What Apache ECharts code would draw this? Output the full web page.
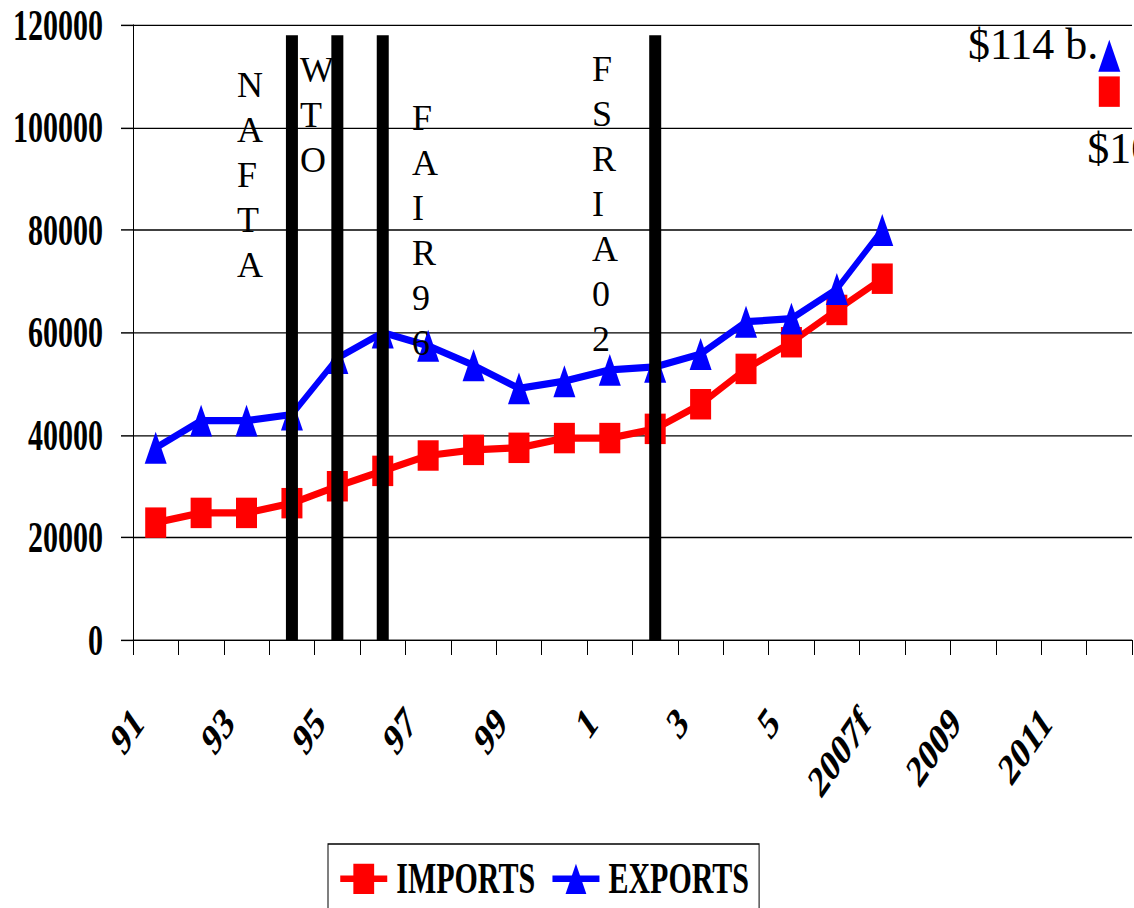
<!DOCTYPE html>
<html>
<head>
<meta charset="utf-8">
<script src="https://cdn.jsdelivr.net/npm/echarts@6/dist/echarts.min.js"></script>
<style>
  html, body { margin: 0; padding: 0; background: #fff; overflow: hidden; }
  #page { position: relative; width: 1134px; height: 908px; overflow: hidden; }
  /* the chart is drawn narrow-and-tall: render it short, then stretch it vertically */
  #chart { position: absolute; left: 0; top: 0; width: 1134px; height: 626px;
           transform: scaleY(1.4505); transform-origin: 0 0; }
</style>
</head>
<body>
<div id="page"><div id="chart"></div></div>
<script>
// Trade values by year (millions of US$); 2008-2011 have no values
const years = ['91', '92', '93', '94', '95', '96', '97', '98', '99', '0', '1', '2', '3', '4', '5', '6',
               '2007f', '2008', '2009', '2010', '2011', '2012'];
const imports = [22900, 24800, 24800, 26700, 30000, 33000, 36000, 37100, 37500, 39400, 39400, 41200,
                 46000, 52900, 58100, 64400, 70500, null, null, null, null, 107000];
const exports = [37500, 42800, 42800, 44000, 55000, 60000, 57400, 53600, 49100, 50500, 52700, 53300,
                 55800, 62100, 62700, 68500, 80000, null, null, null, null, 114000];

// Trade agreements / farm bills, marked by a black bar at their year
const policyYears = ['94', '95', '96', '2'];
const policyBarValue = 118000;
const policyNames = ['NAFTA', 'WTO', 'FAIR96', 'FSRIA02'];

const yTicks = [0, 20000, 40000, 60000, 80000, 100000, 120000];

const S = 908 / 626;            // vertical stretch applied by CSS
const SERIF = '"Liberation Serif", "Times New Roman", serif';

const chart = echarts.init(document.getElementById('chart'), null, { renderer: 'svg' });

const barData = years.map(y => (policyYears.indexOf(y) >= 0 ? policyBarValue : null));

chart.setOption({
  animation: false,
  backgroundColor: '#fff',
  grid: {
    left: 133, right: 2, top: 25 / S, bottom: 626 - 640 / S,
    containLabel: false, outerBoundsMode: 'none'
  },
  legend: {
    data: ['IMPORTS', 'EXPORTS'],
    left: 328, top: 844 / S,
    orient: 'horizontal',
    borderColor: '#000', borderWidth: 1,
    padding: [9, 10, 12, 10],
    itemGap: 15,
    itemWidth: 47, itemHeight: 26,
    lineStyle: { width: 4.5 },
    textStyle: { fontFamily: SERIF, fontWeight: 'bold', fontSize: 30, color: '#000', padding: [0, 0, 0, 4] }
  },
  xAxis: {
    type: 'category',
    data: years,
    boundaryGap: true,
    axisLine: { show: true, lineStyle: { color: '#000', width: 1 } },
    axisTick: { show: true, interval: 0, length: 15 / S, alignWithLabel: false, lineStyle: { color: '#000', width: 1 } },
    axisLabel: {
      interval: 1, rotate: 45, margin: 34, padding: [0, 25, 0, 0],
      fontFamily: SERIF, fontWeight: 'bold', fontSize: 31, color: '#000'
    },
    splitLine: { show: false }
  },
  yAxis: {
    type: 'value',
    min: yTicks[0], max: yTicks[yTicks.length - 1], interval: yTicks[1] - yTicks[0],
    axisLine: { show: true, lineStyle: { color: '#000', width: 1 } },
    axisTick: { show: true, inside: false, length: 12, lineStyle: { color: '#000', width: 1 } },
    axisLabel: {
      margin: 30, fontFamily: SERIF, fontWeight: 'bold', fontSize: 30, color: '#000',
      formatter: v => String(v)
    },
    splitLine: { show: true, lineStyle: { color: '#000', width: 1 } }
  },
  series: [
    {
      name: 'IMPORTS', type: 'line', data: imports, z: 3,
      connectNulls: false,
      symbol: 'rect', symbolSize: 21,
      lineStyle: { color: '#ff0000', width: 5 },
      itemStyle: { color: '#ff0000' }
    },
    {
      name: 'EXPORTS', type: 'line', data: exports, z: 4,
      connectNulls: false,
      symbol: 'triangle', symbolSize: 22,
      lineStyle: { color: '#0000ff', width: 5 },
      itemStyle: { color: '#0000ff' }
    },
    {
      name: 'policy', type: 'bar', data: barData, z: 10,
      barWidth: 12, itemStyle: { color: '#000' },
      silent: true
    }
  ]
});

// Stacked-letter captions for each policy, drawn unstretched
const captionLayout = [
  { x: 237, top: 63 },
  { x: 300, top: 48 },
  { x: 412, top: 96 },
  { x: 592, top: 47 }
];

function pageText(text, x, pageY, font, align, vAlign, lineHeight) {
  return {
    type: 'text', x: x, y: pageY / S, scaleY: 1 / S, z: 6, silent: true,
    style: {
      text: text, font: font, fill: '#000', align: align, verticalAlign: vAlign,
      lineHeight: lineHeight
    }
  };
}

const graphics = policyNames.map((name, i) =>
  pageText(name.split('').join('\n'), captionLayout[i].x, captionLayout[i].top,
           '36px ' + SERIF, 'left', 'top', 45));

// Value captions for the last year of each series
const last = years.length - 1;
const pE = chart.convertToPixel({ gridIndex: 0 }, [last, exports[last]]);
const pI = chart.convertToPixel({ gridIndex: 0 }, [last, imports[last]]);
const billions = v => '$' + Math.round(v / 1000) + ' b.';
graphics.push(pageText(billions(exports[last]), pE[0] - 11, pE[1] * S - 11, '44px ' + SERIF, 'right', 'middle', 44));
graphics.push(pageText(billions(imports[last]), pI[0] - 22, pI[1] * S + 57, '44px ' + SERIF, 'left', 'middle', 44));

chart.setOption({ graphic: { elements: graphics } });
</script>
</body>
</html>
